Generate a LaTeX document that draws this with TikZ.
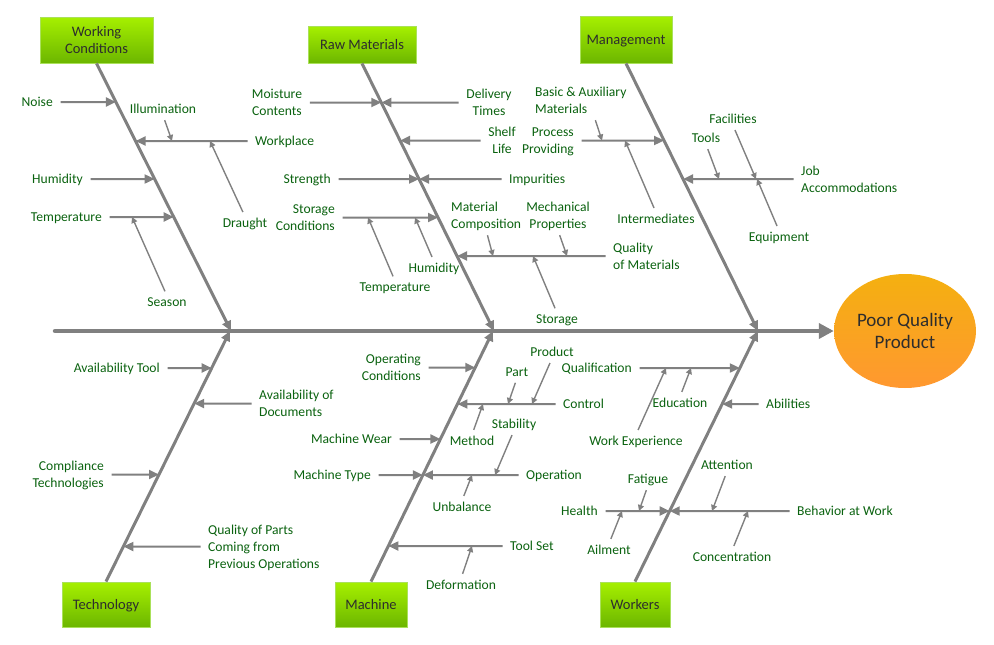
\documentclass[tikz,border=0pt]{standalone}
\usepackage{fontspec}
\setmainfont{Carlito}
\usepackage{tikz}
\usetikzlibrary{arrows.meta}
\usetikzlibrary{shapes.geometric}
\usepackage{xcolor}
\definecolor{boneGray}{RGB}{128,128,128}
\definecolor{causeGreen}{RGB}{10,98,15}
\definecolor{boxText}{RGB}{45,45,45}
\definecolor{boxTop}{RGB}{166,240,0}
\definecolor{boxBottom}{RGB}{108,182,0}
\definecolor{boxEdge}{RGB}{170,225,90}
\definecolor{effectTop}{RGB}{244,176,16}
\definecolor{effectBottom}{RGB}{255,152,48}
\newcommand\causeto[2]{
  \coordinate (#1Hit) at (intersection of #2Top--#2End and #1.west--#1.east);
  \draw[causeline] (#1) -- (#1Hit);
}

\begin{document}
\begin{tikzpicture}[x=1pt, y=-1pt,
		catbox/.style={draw=boxEdge, line width=0.8pt, top color=boxTop, bottom color=boxBottom, text=boxText, align=center, font=\fontsize{14.5}{17}\selectfont, text depth=0pt, inner sep=0pt},
		effect/.style={ellipse, draw=none, top color=effectTop, bottom color=effectBottom, text=boxText, align=center, font=\fontsize{19}{22.5}\selectfont, text depth=0pt, minimum width=142pt, minimum height=114pt, inner sep=0pt},
		causetext/.style={text=causeGreen, font=\fontsize{13.6}{17}\selectfont, text depth=0pt, inner sep=1.5pt},
		spine/.style={draw=boneGray, line width=4.5pt, line cap=round, -{Triangle[length=15pt, width=15pt]}},
		bone/.style={draw=boneGray, line width=3pt, -{Triangle[length=10pt, width=9pt]}},
		causeline/.style={draw=boneGray, line width=2pt, shorten <=6pt, -{Triangle[length=10pt, width=9pt]}},
		subline/.style={draw=boneGray, line width=1.4pt, shorten <=5pt, -{Triangle[length=6pt, width=6pt]}}]
	\useasboundingbox (0,0) rectangle (994,645);

	\node[catbox, minimum width=113pt, minimum height=46pt] (wc) at (96.5,40) {Working\\Conditions};
	\node[catbox, minimum width=108pt, minimum height=37pt] (rm) at (362,44.5) {Raw Materials};
	\node[catbox, minimum width=92pt, minimum height=47pt] (mg) at (626,39.5) {Management};
	\node[catbox, minimum width=88pt, minimum height=45pt] (te) at (106,604.5) {Technology};
	\node[catbox, minimum width=72pt, minimum height=45pt] (mc) at (371,604.5) {Machine};
	\node[catbox, minimum width=70pt, minimum height=45pt] (wk) at (635,604.5) {Workers};
	\node[effect] (effect) at (905,331) {Poor Quality\\Product};

	\coordinate (spineStart) at (55,331);
	\draw[spine] (spineStart) -- (effect);

	\coordinate (wcTop) at (wc.south);
	\coordinate (wcEnd) at (231,331);
	\coordinate (rmTop) at (rm.south);
	\coordinate (rmEnd) at (494,331);
	\coordinate (mgTop) at (mg.south);
	\coordinate (mgEnd) at (758,331);
	\coordinate (teTop) at (te.north);
	\coordinate (teEnd) at (230,331);
	\coordinate (mcTop) at (mc.north);
	\coordinate (mcEnd) at (493,331);
	\coordinate (wkTop) at (wk.north);
	\coordinate (wkEnd) at (758,331);
	\draw[bone] (wc.south) -- (wcEnd);
	\draw[bone] (rm.south) -- (rmEnd);
	\draw[bone] (mg.south) -- (mgEnd);
	\draw[bone] (te.north) -- (teEnd);
	\draw[bone] (mc.north) -- (mcEnd);
	\draw[bone] (wk.north) -- (wkEnd);

	\node[causetext, anchor=east] (noise) at (54.5,102) {Noise};
	\node[causetext] (illum) at (163,109) {Illumination};
	\node[causetext, anchor=west] (workpl) at (253.5,141) {Workplace};
	\node[causetext] (draught) at (245,223) {Draught};
	\node[causetext, anchor=east] (humidA) at (84.5,179) {Humidity};
	\node[causetext, anchor=east] (tempA) at (103.5,217) {Temperature};
	\node[causetext] (season) at (167,302) {Season};
	\causeto{noise}{wc}
	\causeto{workpl}{wc}
	\causeto{humidA}{wc}
	\causeto{tempA}{wc}
	\coordinate (illumT) at (172,141);
	\coordinate (draughtT) at (210,141);
	\coordinate (seasonT) at (132,217);
	\draw[subline] (illum.south) -- (illumT);
	\draw[subline] (draught.north) -- (draughtT);
	\draw[subline] (season.north) -- (seasonT);

	\node[causetext, align=center] (moist) at (277,102.5) {Moisture\\Contents};
	\node[causetext, align=center] (deliv) at (489,102.5) {Delivery\\Times};
	\node[causetext, align=center] (shelf) at (502,140.5) {Shelf\\Life};
	\node[causetext, anchor=east] (strength) at (332.5,179) {Strength};
	\node[causetext, anchor=west] (impur) at (507.5,179) {Impurities};
	\node[causetext, align=right, anchor=east] (storCond) at (336.5,217.5) {Storage\\Conditions};
	\node[causetext] (tempB) at (395,287) {Temperature};
	\node[causetext] (humidB) at (434,268) {Humidity};
	\node[causetext, align=left, anchor=west] (qualMat) at (611.5,256) {Quality\\of Materials};
	\node[causetext, align=left, anchor=west] (matComp) at (449.5,215.5) {Material\\Composition};
	\node[causetext, align=center] (mechProp) at (558,215.5) {Mechanical\\Properties};
	\node[causetext] (storage) at (557,319) {Storage};
	\causeto{moist}{rm}
	\causeto{deliv}{rm}
	\causeto{shelf}{rm}
	\causeto{strength}{rm}
	\causeto{impur}{rm}
	\causeto{storCond}{rm}
	\causeto{qualMat}{rm}
	\coordinate (tempBT) at (368,217.5);
	\coordinate (humidBT) at (415,217.5);
	\coordinate (matCompT) at (493,256);
	\coordinate (mechPropT) at (567,256);
	\coordinate (storageT) at (533,256);
	\draw[subline] (tempB.north) -- (tempBT);
	\draw[subline] (humidB.north) -- (humidBT);
	\draw[subline] (matComp.south) -- (matCompT);
	\draw[subline] (mechProp.south) -- (mechPropT);
	\draw[subline] (storage.north) -- (storageT);

	\node[causetext, align=right, anchor=east] (procProv) at (575.5,140.5) {Process\\Providing};
	\node[causetext, align=left, anchor=west] (basicAux) at (533.5,100.5) {Basic \& Auxiliary\\Materials};
	\node[causetext] (interm) at (656,219) {Intermediates};
	\node[causetext, align=left, anchor=west] (jobAcc) at (799.5,179) {Job\\Accommodations};
	\node[causetext] (tools) at (706,138) {Tools};
	\node[causetext] (facil) at (733,119) {Facilities};
	\node[causetext] (equip) at (779,237) {Equipment};
	\causeto{procProv}{mg}
	\causeto{jobAcc}{mg}
	\coordinate (basicT) at (602,140.5);
	\coordinate (intermT) at (625,140.5);
	\coordinate (toolsT) at (719,179);
	\coordinate (facilT) at (756,179);
	\coordinate (equipT) at (757,179);
	\draw[subline] ([xshift=13pt]basicAux.south) -- (basicT);
	\draw[subline] (interm.north) -- (intermT);
	\draw[subline] (tools.south) -- (toolsT);
	\draw[subline] (facil.south) -- (facilT);
	\draw[subline] (equip.north) -- (equipT);

	\node[causetext, anchor=east] (availTool) at (161.5,368) {Availability Tool};
	\node[causetext, align=left, anchor=west] (availDoc) at (257.5,403.5) {Availability of\\Documents};
	\node[causetext, align=right, anchor=east] (compl) at (105.5,474.5) {Compliance\\Technologies};
	\node[causetext, align=left, anchor=west] (qualParts) at (206.5,546.5) {Quality of Parts\\Coming from\\Previous Operations};
	\causeto{availTool}{te}
	\causeto{availDoc}{te}
	\causeto{compl}{te}
	\causeto{qualParts}{te}

	\node[causetext, align=right, anchor=east] (operCond) at (422.5,367.5) {Operating\\Conditions};
	\node[causetext, anchor=west] (control) at (561.5,404) {Control};
	\node[causetext] (part) at (517,372) {Part};
	\node[causetext] (product) at (552,352) {Product};
	\node[causetext] (method) at (472,441) {Method};
	\node[causetext, anchor=east] (machWear) at (393.5,439) {Machine Wear};
	\node[causetext, anchor=east] (machType) at (372.5,475) {Machine Type};
	\node[causetext, anchor=west] (operation) at (524.5,475) {Operation};
	\node[causetext] (stability) at (514,424) {Stability};
	\node[causetext] (unbal) at (462,507) {Unbalance};
	\node[causetext, anchor=west] (toolSet) at (508.5,546) {Tool Set};
	\node[causetext] (deform) at (461,585) {Deformation};
	\causeto{operCond}{mc}
	\causeto{control}{mc}
	\causeto{machWear}{mc}
	\causeto{machType}{mc}
	\causeto{operation}{mc}
	\causeto{toolSet}{mc}
	\coordinate (partT) at (508,404);
	\coordinate (productT) at (532,404);
	\coordinate (methodT) at (483,404);
	\coordinate (stabT) at (495,475);
	\coordinate (unbalT) at (472,475);
	\coordinate (deformT) at (472,546);
	\draw[subline] (part.south) -- (partT);
	\draw[subline] (product.south) -- (productT);
	\draw[subline] (method.north) -- (methodT);
	\draw[subline] (stability.south) -- (stabT);
	\draw[subline] (unbal.north) -- (unbalT);
	\draw[subline] (deform.north) -- (deformT);

	\node[causetext, anchor=east] (qualif) at (633.5,368) {Qualification};
	\node[causetext] (workExp) at (636,441) {Work Experience};
	\node[causetext] (educ) at (680,403) {Education};
	\node[causetext, anchor=west] (abil) at (764.5,404) {Abilities};
	\node[causetext, anchor=east] (health) at (599.5,511) {Health};
	\node[causetext] (fatigue) at (648,479) {Fatigue};
	\node[causetext] (ailment) at (609,550) {Ailment};
	\node[causetext, anchor=west] (behav) at (795.5,511) {Behavior at Work};
	\node[causetext] (attent) at (727,465) {Attention};
	\node[causetext] (concent) at (732,557) {Concentration};
	\causeto{qualif}{wk}
	\causeto{abil}{wk}
	\causeto{health}{wk}
	\causeto{behav}{wk}
	\coordinate (workExpT) at (666,368);
	\coordinate (educT) at (691,368);
	\coordinate (fatigueT) at (639,511);
	\coordinate (ailmentT) at (622,511);
	\coordinate (attentT) at (712,511);
	\coordinate (concentT) at (748,511);
	\draw[subline] (workExp.north) -- (workExpT);
	\draw[subline] (educ.north) -- (educT);
	\draw[subline] (fatigue.south) -- (fatigueT);
	\draw[subline] (ailment.north) -- (ailmentT);
	\draw[subline] (attent.south) -- (attentT);
	\draw[subline] (concent.north) -- (concentT);
\end{tikzpicture}
\end{document}
